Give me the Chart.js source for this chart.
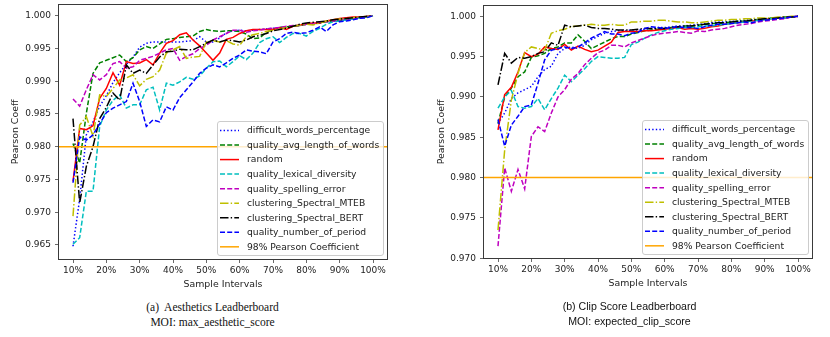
<!DOCTYPE html>
<html>
<head>
<meta charset="utf-8">
<script src="https://cdn.jsdelivr.net/npm/chart.js@4/dist/chart.umd.min.js"></script>
<style>
body{margin:0;background:#fff;width:830px;height:337px;position:relative;overflow:hidden}
.box{position:absolute;top:0;width:415px;height:300px}
.cap{position:absolute;width:415px;text-align:center;color:#111}
</style>
</head>
<body>
<div class="box" style="left:0"><canvas id="chartA" width="415" height="300"></canvas></div>
<div class="box" style="left:415px"><canvas id="chartB" width="415" height="300"></canvas></div>
<div class="cap" style="left:5px;top:300px;font:11.5px/14.5px 'Liberation Serif'">(a)&nbsp; Aesthetics Leadberboard<br>MOI: max_aesthetic_score</div>
<div class="cap" style="left:422px;top:299px;font:10.6px/15px 'Liberation Sans'">(b) Clip Score Leadberboard<br>MOI: expected_clip_score</div>
<script>
// sample intervals (%)
const samplePct=[10,12,14,16,18,20,22,24,26,28,30,32,34,36,38,40,42,44,46,48,50,52,54,56,58,60,62,64,66,68,70,72,74,76,78,80,82,84,86,88,90,92,94,96,98,100];
const xTickVals=[10,20,30,40,50,60,70,80,90,100];
const yTicksA=[0.965,0.970,0.975,0.980,0.985,0.990,0.995,1.000];
const yTicksB=[0.970,0.975,0.980,0.985,0.990,0.995,1.000];
const pearsonLine=0.98;
const seriesNames=['difficult_words_percentage','quality_avg_length_of_words','random','quality_lexical_diversity','quality_spelling_error','clustering_Spectral_MTEB','clustering_Spectral_BERT','quality_number_of_period'];
const refName='98% Pearson Coefficient';

// (a) Aesthetics Leaderboard
const a_difficultWords=[.9648,.9720,.9818,.9838,.9862,.9878,.9898,.9913,.9926,.9937,.9952,.9958,.9960,.9960,.9960,.9960,.9960,.9961,.9962,.9968,.9960,.9960,.9966,.9974,.9977,.9978,.9977,.9978,.9979,.9980,.9981,.9982,.9983,.9984,.9986,.9987,.9988,.9989,.9991,.9992,.9993,.9994,.9996,.9997,.9999,1.0000];
const a_avgLength=[.9805,.9775,.9851,.9912,.9928,.9932,.9936,.9940,.9930,.9936,.9948,.9953,.9950,.9957,.9964,.9965,.9967,.9968,.9969,.9976,.9979,.9977,.9976,.9977,.9977,.9976,.9972,.9965,.9966,.9975,.9979,.9982,.9983,.9984,.9985,.9987,.9988,.9989,.9991,.9992,.9993,.9995,.9996,.9997,.9998,1.0000];
const a_random=[.9747,.9828,.9826,.9832,.9874,.9889,.9913,.9894,.9930,.9927,.9928,.9933,.9925,.9943,.9958,.9962,.9971,.9974,.9963,.9954,.9943,.9932,.9943,.9964,.9967,.9973,.9977,.9979,.9979,.9979,.9979,.9982,.9979,.9984,.9986,.9988,.9989,.9989,.9992,.9994,.9996,.9997,.9998,.9998,.9999,1.0000];
const a_lexical=[.9651,.9661,.9732,.9732,.9831,.9856,.9871,.9879,.9859,.9864,.9864,.9887,.9891,.9856,.9897,.9894,.9899,.9906,.9903,.9908,.9920,.9930,.9931,.9922,.9930,.9939,.9933,.9943,.9959,.9965,.9968,.9959,.9967,.9973,.9973,.9969,.9976,.9981,.9987,.9991,.9992,.9994,.9995,.9997,.9998,1.0000];
const a_spelling=[.9873,.9862,.9887,.9910,.9902,.9910,.9927,.9930,.9920,.9922,.9932,.9935,.9938,.9943,.9948,.9950,.9932,.9938,.9942,.9950,.9955,.9963,.9968,.9973,.9978,.9978,.9975,.9977,.9978,.9980,.9981,.9982,.9984,.9985,.9985,.9987,.9988,.9990,.9991,.9992,.9994,.9995,.9996,.9997,.9999,1.0000];
const a_mteb=[.9694,.9833,.9846,.9816,.9879,.9877,.9889,.9902,.9905,.9910,.9893,.9903,.9907,.9917,.9943,.9948,.9953,.9935,.9937,.9938,.9960,.9962,.9960,.9962,.9957,.9955,.9968,.9971,.9973,.9976,.9978,.9980,.9982,.9984,.9986,.9987,.9986,.9989,.9992,.9994,.9995,.9996,.9997,.9998,.9999,1.0000];
const a_bert=[.9843,.9714,.9770,.9800,.9843,.9860,.9882,.9871,.9925,.9912,.9917,.9912,.9925,.9937,.9945,.9946,.9949,.9948,.9948,.9953,.9958,.9963,.9960,.9963,.9962,.9960,.9963,.9968,.9970,.9973,.9977,.9979,.9981,.9984,.9987,.9989,.9990,.9991,.9992,.9994,.9995,.9996,.9997,.9998,.9999,1.0000];
const a_period=[.9745,.9815,.9810,.9818,.9835,.9852,.9859,.9864,.9869,.9897,.9869,.9831,.9841,.9838,.9861,.9856,.9875,.9887,.9899,.9912,.9920,.9925,.9922,.9928,.9935,.9940,.9948,.9946,.9945,.9942,.9960,.9965,.9973,.9975,.9973,.9974,.9978,.9983,.9976,.9986,.9991,.9992,.9994,.9996,.9997,1.0000];

// (b) Clip Score Leaderboard
const b_difficultWords=[.9867,.9880,.9898,.9905,.9909,.9913,.9925,.9934,.9938,.9954,.9960,.9962,.9960,.9964,.9971,.9975,.9979,.9981,.9982,.9982,.9983,.9983,.9984,.9985,.9986,.9986,.9987,.9988,.9988,.9989,.9990,.9991,.9992,.9993,.9993,.9994,.9994,.9995,.9996,.9996,.9997,.9997,.9998,.9999,.9999,1.0000];
const b_avgLength=[.9867,.9900,.9911,.9925,.9931,.9949,.9951,.9954,.9960,.9962,.9967,.9967,.9977,.9969,.9960,.9964,.9968,.9972,.9975,.9975,.9978,.9980,.9982,.9983,.9984,.9985,.9986,.9987,.9988,.9988,.9989,.9990,.9991,.9991,.9992,.9993,.9994,.9994,.9995,.9996,.9997,.9998,.9998,.9999,.9999,1.0000];
const b_random=[.9859,.9903,.9912,.9931,.9955,.9950,.9953,.9962,.9960,.9959,.9965,.9958,.9963,.9959,.9956,.9958,.9963,.9968,.9980,.9981,.9981,.9981,.9982,.9982,.9983,.9984,.9985,.9986,.9984,.9985,.9984,.9985,.9987,.9988,.9990,.9991,.9992,.9993,.9994,.9995,.9996,.9997,.9998,.9998,.9999,1.0000];
const b_lexical=[.9886,.9900,.9908,.9888,.9886,.9888,.9898,.9884,.9898,.9911,.9927,.9919,.9927,.9935,.9944,.9950,.9949,.9948,.9948,.9949,.9965,.9968,.9973,.9977,.9980,.9982,.9984,.9985,.9986,.9986,.9987,.9988,.9988,.9989,.9990,.9991,.9992,.9993,.9994,.9995,.9996,.9997,.9998,.9998,.9999,1.0000];
const b_spelling=[.9715,.9812,.9783,.9810,.9786,.9851,.9863,.9857,.9880,.9900,.9909,.9922,.9929,.9940,.9948,.9955,.9958,.9964,.9964,.9962,.9967,.9970,.9973,.9976,.9978,.9979,.9980,.9981,.9980,.9979,.9982,.9981,.9983,.9984,.9985,.9987,.9989,.9990,.9991,.9993,.9994,.9995,.9996,.9997,.9999,1.0000];
const b_mteb=[.9735,.9834,.9896,.9929,.9955,.9962,.9960,.9958,.9979,.9982,.9984,.9987,.9988,.9989,.9990,.9989,.9989,.9990,.9989,.9989,.9993,.9993,.9994,.9994,.9995,.9995,.9994,.9993,.9993,.9992,.9992,.9993,.9994,.9995,.9995,.9996,.9996,.9997,.9997,.9998,.9998,.9998,.9999,.9999,1.0000,1.0000];
const b_bert=[.9915,.9954,.9942,.9949,.9948,.9950,.9954,.9956,.9967,.9964,.9989,.9987,.9988,.9989,.9986,.9985,.9985,.9984,.9983,.9983,.9983,.9984,.9985,.9985,.9985,.9985,.9986,.9987,.9988,.9988,.9989,.9990,.9991,.9992,.9992,.9993,.9994,.9994,.9995,.9996,.9997,.9997,.9998,.9999,.9999,1.0000];
const b_period=[.9872,.9839,.9865,.9876,.9888,.9890,.9917,.9946,.9958,.9960,.9962,.9960,.9962,.9967,.9973,.9977,.9981,.9978,.9978,.9976,.9979,.9980,.9985,.9987,.9986,.9985,.9986,.9987,.9986,.9986,.9985,.9987,.9989,.9990,.9990,.9991,.9992,.9993,.9992,.9994,.9995,.9996,.9997,.9998,.9999,1.0000];

// matplotlib-like line styles (b:, g--, r-, c--, m--, y-., k-., b--, orange)
const DOT=[1.4,2.2], DASH=[5,2.2], DASHDOT=[8.5,2.2,1.4,2.2];
const lineColors=['#0000ff','#008000','#ff0000','#00bfbf','#bf00bf','#bfbf00','#000000','#0000ff','#ffa500'];
const lineDashes=[DOT,DASH,[],DASH,DASH,DASHDOT,DASHDOT,DASH,[]];

const X_MIN=5.5, X_MAX=104.5;
const FONT='DejaVu Sans';
const CANVAS_H=300;
const LW=1.5;

const mplDecor={
    id:'mplDecor',
    afterDatasetsDraw(chart){
        const ctx=chart.ctx, a=chart.chartArea;
        ctx.save();
        ctx.strokeStyle='#3a3a3a';
        ctx.lineWidth=1;
        ctx.strokeRect(Math.round(a.left)+0.5,Math.round(a.top)+0.5,Math.round(a.right-a.left)-1,Math.round(a.bottom-a.top)-1);
        // legend, lower right inside axes
        const w=166, h=134;
        const bx=a.right-5-w, by=a.bottom-5-h;
        ctx.beginPath();
        ctx.roundRect(bx+0.5,by+0.5,w,h,2.5);
        ctx.fillStyle='rgba(255,255,255,0.8)';
        ctx.fill();
        ctx.strokeStyle='#cccccc';
        ctx.stroke();
        ctx.font='9.2px "'+FONT+'"';
        ctx.textBaseline='middle';
        chart.data.datasets.forEach((ds,i)=>{
            const y=by+9.5+i*14.54;
            ctx.beginPath();
            ctx.setLineDash(ds.borderDash);
            ctx.strokeStyle=ds.borderColor;
            ctx.lineWidth=ds.borderWidth;
            ctx.moveTo(bx+3,y);
            ctx.lineTo(bx+22,y);
            ctx.stroke();
            ctx.setLineDash([]);
            ctx.fillStyle='#222';
            ctx.fillText(ds.label,bx+30,y+0.5);
        });
        ctx.restore();
    }
};

function makeChart(id,seriesVals,yTicks,yMin,yMax,yAxisWidth,rightPad,topPad,areaBottom,yTitlePad,xTitlePad){
    const datasets=seriesVals.map((vals,i)=>({
        label:seriesNames[i],
        data:samplePct.map((p,j)=>({x:p,y:vals[j]})),
        borderColor:lineColors[i],
        borderDash:lineDashes[i],
        borderWidth:LW,
        pointRadius:0,
        fill:false,
        tension:0,
        order:20-i
    }));
    datasets.push({
        label:refName,
        data:[{x:X_MIN,y:pearsonLine},{x:X_MAX,y:pearsonLine}],
        borderColor:lineColors[8],
        borderDash:lineDashes[8],
        borderWidth:LW,
        pointRadius:0,
        order:1
    });
    const tickFont={family:FONT,size:9};
    return new Chart(document.getElementById(id),{
        type:'line',
        data:{datasets:datasets},
        options:{
            responsive:false,
            animation:false,
            devicePixelRatio:1,
            layout:{padding:{top:topPad,right:rightPad,left:0,bottom:0}},
            plugins:{legend:{display:false},tooltip:{enabled:false}},
            scales:{
                x:{
                    type:'linear',min:X_MIN,max:X_MAX,
                    afterBuildTicks:s=>{s.ticks=xTickVals.map(v=>({value:v}));},
                    afterFit:s=>{s.height=CANVAS_H-areaBottom;s.paddingLeft=0;s.paddingRight=0;},
                    ticks:{callback:v=>v+'%',color:'#222',font:tickFont,padding:2.5,maxRotation:0,autoSkip:false},
                    grid:{drawOnChartArea:false,drawTicks:true,tickLength:3,tickColor:'#444',tickWidth:0.8},
                    border:{display:false},
                    title:{display:true,text:'Sample Intervals',color:'#222',font:{family:FONT,size:9.4},padding:{top:0,bottom:xTitlePad}}
                },
                y:{
                    type:'linear',min:yMin,max:yMax,
                    afterBuildTicks:s=>{s.ticks=yTicks.map(v=>({value:v}));},
                    afterFit:s=>{s.width=yAxisWidth;s.paddingTop=0;s.paddingBottom=0;},
                    ticks:{callback:v=>v.toFixed(3),color:'#222',font:tickFont,padding:4},
                    grid:{drawOnChartArea:false,drawTicks:true,tickLength:3,tickColor:'#444',tickWidth:0.8},
                    border:{display:false},
                    title:{display:true,text:'Pearson Coeff',color:'#222',font:{family:FONT,size:9.4},padding:{top:yTitlePad,bottom:0}}
                }
            }
        },
        plugins:[mplDecor]
    });
}

makeChart('chartA',[a_difficultWords,a_avgLength,a_random,a_lexical,a_spelling,a_mteb,a_bert,a_period],
    yTicksA,0.9627,1.0018,58,27,4,260,9.6,10.3);
makeChart('chartB',[b_difficultWords,b_avgLength,b_random,b_lexical,b_spelling,b_mteb,b_bert,b_period],
    yTicksB,0.9699,1.0014,68,17,5,259,20.6,11.3);
</script>
</body>
</html>
